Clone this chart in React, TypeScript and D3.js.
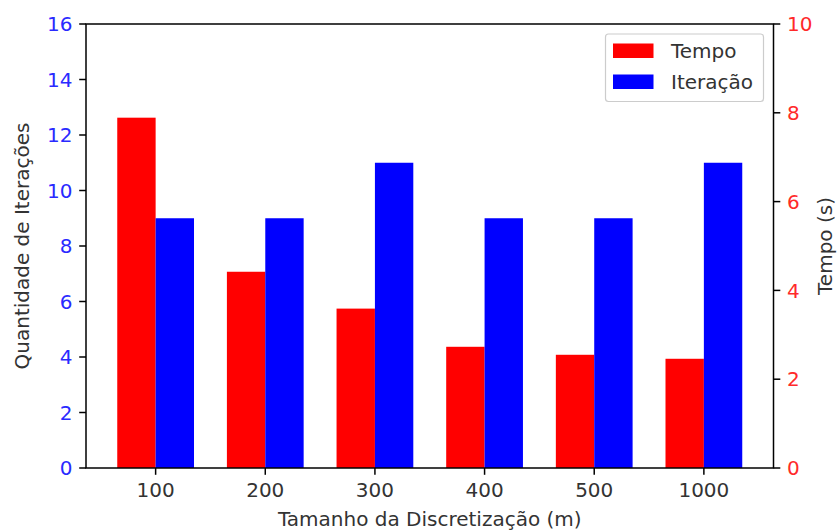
import React from "react";
import * as d3 from "d3";

const categories = ["100", "200", "300", "400", "500", "1000"];
const tempo = [7.89, 4.42, 3.59, 2.73, 2.55, 2.46];
const iteracao = [9, 9, 11, 9, 9, 11];
const leftTicks = [0, 2, 4, 6, 8, 10, 12, 14, 16];
const rightTicks = [0, 2, 4, 6, 8, 10];

const W = 837;
const H = 530;
const L = 86;
const R = 773.5;
const T = 24;
const B = 468;
const FS = 20;
const FONT = "DejaVu Sans, sans-serif";
const BW = 0.35;

export default function App() {
  const x = d3.scaleLinear().domain([-0.635, 5.635]).range([L, R]);
  const yL = d3.scaleLinear().domain([0, 16]).range([B, T]);
  const yR = d3.scaleLinear().domain([0, 10]).range([B, T]);
  const tick = 6.8;
  const pad = 6.8;
  return (
    <svg
      width={W}
      height={H}
      style={{ position: "absolute", left: 0, top: 0 }}
      fontFamily={FONT}
    >
      <rect x={0} y={0} width={W} height={H} fill="white" />
      {categories.map((c, i) => (
        <g key={c}>
          <rect
            x={x(i - BW)}
            y={yR(tempo[i])}
            width={x(i) - x(i - BW)}
            height={B - yR(tempo[i])}
            fill="red"
          />
          <rect
            x={x(i)}
            y={yL(iteracao[i])}
            width={x(i + BW) - x(i)}
            height={B - yL(iteracao[i])}
            fill="blue"
          />
        </g>
      ))}
      <rect x={L} y={T} width={R - L} height={B - T} fill="none" stroke="black" strokeWidth={1.5} />
      {leftTicks.map((t) => (
        <g key={"l" + t}>
          <line x1={L - tick} x2={L} y1={yL(t)} y2={yL(t)} stroke="black" strokeWidth={1.5} />
          <text x={L - tick - pad} y={yL(t)} dy="0.36em" textAnchor="end" fontSize={FS} fill="#2a2aff">
            {t}
          </text>
        </g>
      ))}
      {rightTicks.map((t) => (
        <g key={"r" + t}>
          <line x1={R} x2={R + tick} y1={yR(t)} y2={yR(t)} stroke="black" strokeWidth={1.5} />
          <text x={R + tick + pad} y={yR(t)} dy="0.36em" textAnchor="start" fontSize={FS} fill="#ff2a2a">
            {t}
          </text>
        </g>
      ))}
      {categories.map((c, i) => (
        <g key={"x" + c}>
          <line x1={x(i)} x2={x(i)} y1={B} y2={B + tick} stroke="black" strokeWidth={1.5} />
          <text x={x(i)} y={B + tick + pad} dy="0.76em" textAnchor="middle" fontSize={FS} fill="#333333">
            {c}
          </text>
        </g>
      ))}
      <text x={(L + R) / 2} y={526} textAnchor="middle" fontSize={FS} fill="#333333">
        Tamanho da Discretização (m)
      </text>
      <text
        transform={`translate(29,${(T + B) / 2}) rotate(-90)`}
        textAnchor="middle"
        fontSize={FS}
        fill="#333333"
      >
        Quantidade de Iterações
      </text>
      <text
        transform={`translate(832,${(T + B) / 2}) rotate(-90)`}
        textAnchor="middle"
        fontSize={FS}
        fill="#333333"
      >
        Tempo (s)
      </text>
      <rect x={605.5} y={34} width={158} height={67.5} rx={3} fill="white" fillOpacity={0.8} stroke="#cccccc" strokeWidth={1.2} />
      <rect x={613} y={43.5} width={40.5} height={14.5} fill="red" />
      <rect x={613} y={74.5} width={40.5} height={14.5} fill="blue" />
      <text x={671} y={50.8} dy="0.36em" fontSize={FS} fill="#333333">Tempo</text>
      <text x={671} y={81.8} dy="0.36em" fontSize={FS} fill="#333333">Iteração</text>
    </svg>
  );
}
